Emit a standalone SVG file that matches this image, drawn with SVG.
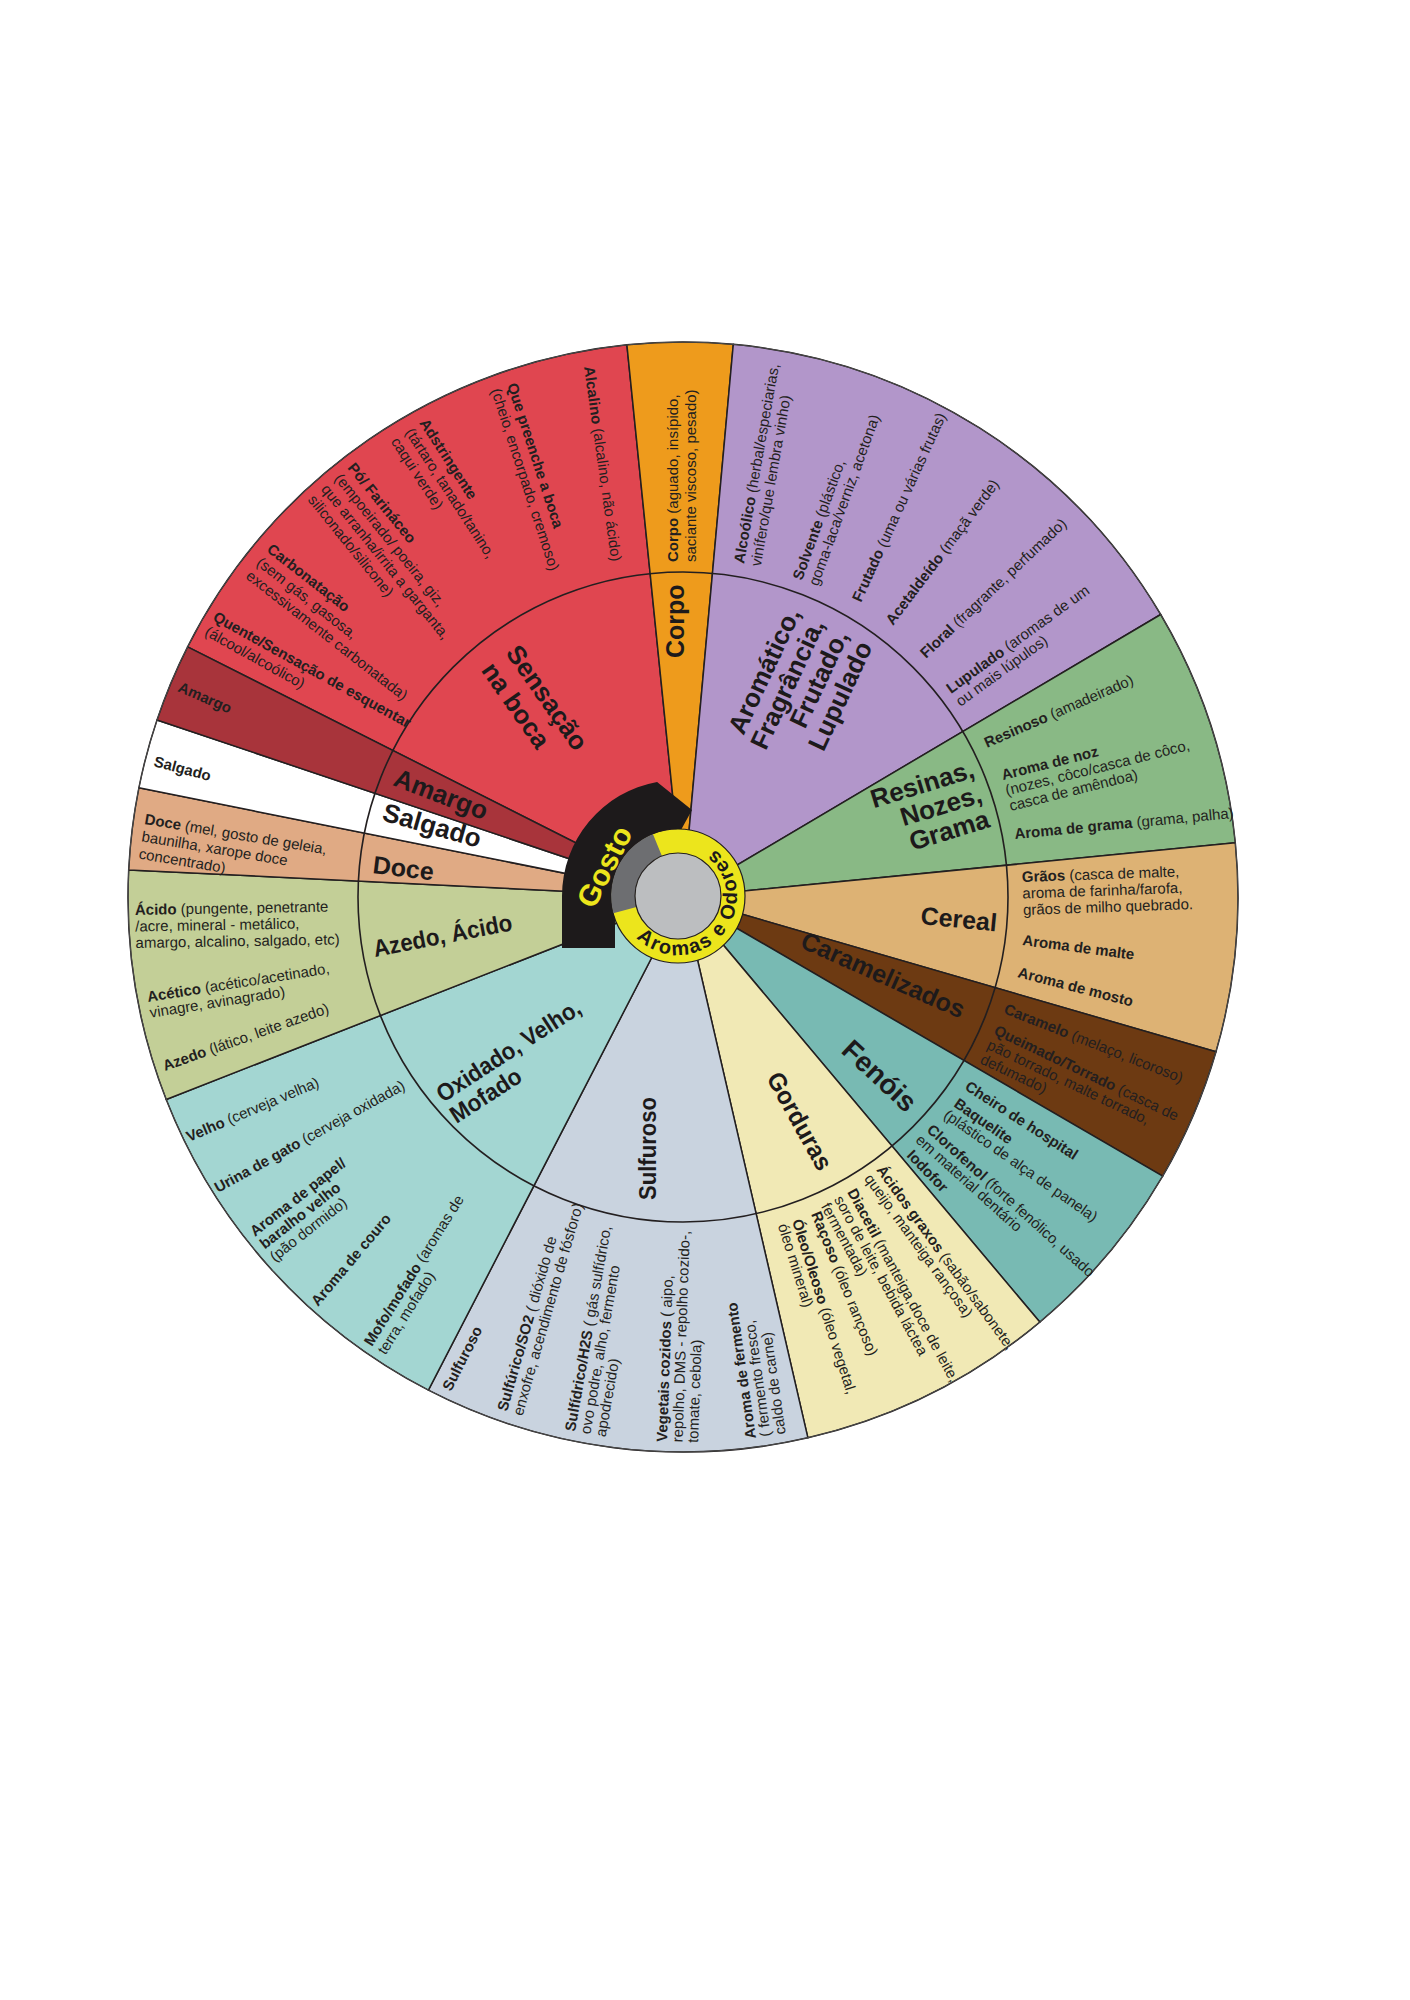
<svg xmlns="http://www.w3.org/2000/svg" width="1410" height="2000" viewBox="0 0 1410 2000">
<style>
.w{stroke:#231f20;stroke-width:1.5;stroke-linejoin:round}
.d{font-family:"Liberation Sans",Arial,Helvetica,sans-serif;font-size:15px;fill:#231f20}
.b{font-weight:bold}
.c{font-family:"Liberation Sans",Arial,Helvetica,sans-serif;font-weight:bold;fill:#1d1a1b}
</style>
<defs>
<path id="ring" d="M636.28,937.72 A59,59 0 0 0 723.2,858.08 A59,59 0 0 0 640.08,850.8"/>
</defs>
<rect width="1410" height="2000" fill="#ffffff"/>
<g id="sectors">
<path id="w-sensacao" class="w" fill="#e04650" d="M683,897 L187.6,646.8 A555,555 0 0 1 626.9,344.8 Z"/>
<path id="w-corpo" class="w" fill="#ee9b1c" d="M683,897 L626.9,344.8 A555,555 0 0 1 733.3,344.3 Z"/>
<path id="w-aromatico" class="w" fill="#b296ca" d="M683,897 L733.3,344.3 A555,555 0 0 1 1160.7,614.5 Z"/>
<path id="w-resinas" class="w" fill="#89b985" d="M683,897 L1160.7,614.5 A555,555 0 0 1 1235.3,842.8 Z"/>
<path id="w-cereal" class="w" fill="#ddb274" d="M683,897 L1235.3,842.8 A555,555 0 0 1 1216,1051.8 Z"/>
<path id="w-caramelizados" class="w" fill="#6d3a12" d="M683,897 L1216,1051.8 A555,555 0 0 1 1162.7,1176.2 Z"/>
<path id="w-fenois" class="w" fill="#78bab3" d="M683,897 L1162.7,1176.2 A555,555 0 0 1 1039.8,1322.1 Z"/>
<path id="w-gorduras" class="w" fill="#f1e9b5" d="M683,897 L1039.8,1322.1 A555,555 0 0 1 807.9,1437.8 Z"/>
<path id="w-sulfuroso" class="w" fill="#c9d3df" d="M683,897 L807.9,1437.8 A555,555 0 0 1 428.4,1390.2 Z"/>
<path id="w-oxidado" class="w" fill="#a3d6d2" d="M683,897 L428.4,1390.2 A555,555 0 0 1 166.2,1099.5 Z"/>
<path id="w-azedo" class="w" fill="#c3cf97" d="M683,897 L166.2,1099.5 A555,555 0 0 1 128.7,869.9 Z"/>
<path id="w-doce" class="w" fill="#e0aa84" d="M683,897 L128.7,869.9 A555,555 0 0 1 138.9,787.8 Z"/>
<path id="w-salgado" class="w" fill="#ffffff" d="M683,897 L138.9,787.8 A555,555 0 0 1 157,720 Z"/>
<path id="w-amargo" class="w" fill="#a8343b" d="M683,897 L157,720 A555,555 0 0 1 187.6,646.8 Z"/>
<circle cx="683" cy="897" r="325" fill="none" stroke="#231f20" stroke-width="1.6"/>
<circle cx="683" cy="897" r="555" fill="none" stroke="#4a4a4a" stroke-width="1"/>
</g>

<g id="sensacao">
<text class="c" font-size="26" transform="translate(505 653) rotate(55)">Sensação<tspan x="0" dy="30">na boca</tspan></text>
<text class="d" transform="translate(584 367) rotate(82)"><tspan class="b">Alcalino</tspan> (alcalino, não ácido)</text>
<text class="d" transform="translate(507 385) rotate(72)"><tspan class="b">Que preenche a boca</tspan><tspan x="0" dy="17">(cheio, encorpado, cremoso)</tspan></text>
<text class="d" transform="translate(419 423) rotate(57)"><tspan class="b">Adstringente</tspan><tspan x="0" dy="17">(tártaro, tanado/tanino,</tspan><tspan x="0" dy="17">caqui verde)</tspan></text>
<text class="d" transform="translate(347 468) rotate(51)"><tspan class="b">Pó/ Farináceo</tspan><tspan x="0" dy="17">(empoeirado/ poeira, giz,</tspan><tspan x="0" dy="17">que arranha/irrita a garganta,</tspan><tspan x="0" dy="17">siliconado/silicone)</tspan></text>
<text class="d" transform="translate(266 551) rotate(38)"><tspan class="b">Carbonatação</tspan><tspan x="0" dy="17">(sem gás, gasosa,</tspan><tspan x="0" dy="17">excessivamente carbonatada)</tspan></text>
<text class="d" transform="translate(212 620) rotate(29)"><tspan class="b">Quente/Sensação de esquentar</tspan><tspan x="0" dy="17">(álcool/alcoólico)</tspan></text>
</g>

<g id="amargo">
<text class="c" font-size="26" transform="translate(392 785) rotate(21)">Amargo</text>
<text class="d b" transform="translate(177 691) rotate(23.5)">Amargo</text>
</g>

<g id="salgado">
<text class="c" font-size="26" transform="translate(381 820) rotate(16)">Salgado</text>
<text class="d b" transform="translate(153 766) rotate(15)">Salgado</text>
</g>

<g id="doce">
<text class="c" font-size="25" transform="translate(372 873) rotate(7)">Doce</text>
<text class="d" transform="translate(144 824) rotate(9.5)"><tspan class="b">Doce</tspan> (mel, gosto de geleia,<tspan x="0" dy="17.5">baunilha, xarope doce</tspan><tspan x="0" dy="17.5">concentrado)</tspan></text>
</g>

<g id="azedo">
<text class="c" font-size="24" textLength="141" lengthAdjust="spacingAndGlyphs" transform="translate(375 957) rotate(-11)">Azedo, Ácido</text>
<text class="d" transform="translate(135 915) rotate(-1)"><tspan class="b">Ácido</tspan> (pungente, penetrante<tspan x="0" dy="16.5">/acre, mineral - metálico,</tspan><tspan x="0" dy="16.5">amargo, alcalino, salgado, etc)</tspan></text>
<text class="d" transform="translate(148 1002) rotate(-9)"><tspan class="b">Acético</tspan> (acético/acetinado,<tspan x="0" dy="16">vinagre, avinagrado)</tspan></text>
<text class="d" transform="translate(165 1071) rotate(-19.5)"><tspan class="b">Azedo</tspan> (lático, leite azedo)</text>
</g>

<g id="oxidado">
<text class="c" font-size="24" transform="translate(443 1103) rotate(-33)"><tspan textLength="167" lengthAdjust="spacingAndGlyphs">Oxidado, Velho,</tspan><tspan x="0" dy="25" textLength="80" lengthAdjust="spacingAndGlyphs">Mofado</tspan></text>
<text class="d" transform="translate(189 1142) rotate(-23)"><tspan class="b">Velho</tspan> (cerveja velha)</text>
<text class="d" transform="translate(218 1193) rotate(-29)"><tspan class="b">Urina de gato</tspan> (cerveja oxidada)</text>
<text class="d" transform="translate(255 1237) rotate(-38)"><tspan class="b">Aroma de papel/</tspan><tspan class="b" x="0" dy="16">baralho velho</tspan><tspan x="0" dy="16">(pão dormido)</tspan></text>
<text class="d b" transform="translate(318 1307) rotate(-50)">Aroma de couro</text>
<text class="d" transform="translate(372 1347) rotate(-58)"><tspan class="b">Mofo/mofado</tspan> (aromas de<tspan x="0" dy="16">terra, mofado)</tspan></text>
</g>

<g id="sulfuroso">
<text class="c" font-size="24" textLength="103" lengthAdjust="spacingAndGlyphs" transform="translate(656 1200) rotate(-90)">Sulfuroso</text>
<text class="d b" transform="translate(451 1392) rotate(-63)">Sulfuroso</text>
<text class="d" transform="translate(507 1412) rotate(-74)"><tspan class="b">Sulfúrico/SO2</tspan> ( dióxido de<tspan x="0" dy="16">enxofre, acendimento de fósforo)</tspan></text>
<text class="d" transform="translate(575 1432) rotate(-80)"><tspan class="b">Sulfídrico/H2S</tspan> ( gás sulfídrico,<tspan x="0" dy="15.5">ovo podre, alho, fermento</tspan><tspan x="0" dy="15.5">apodrecido)</tspan></text>
<text class="d" transform="translate(667 1442) rotate(-88)"><tspan class="b">Vegetais cozidos</tspan> ( aipo,<tspan x="0" dy="15.5">repolho, DMS - repolho cozido-,</tspan><tspan x="0" dy="15.5">tomate, cebola)</tspan></text>
<text class="d" transform="translate(756 1438) rotate(-98)"><tspan class="b">Aroma de fermento</tspan><tspan x="0" dy="15">( fermento fresco,</tspan><tspan x="0" dy="15">caldo de carne)</tspan></text>
</g>

<g id="gorduras">
<text class="c" font-size="25" textLength="108" lengthAdjust="spacingAndGlyphs" transform="translate(766 1078) rotate(61)">Gorduras</text>
<text class="d" transform="translate(876 1170) rotate(54)"><tspan class="b">Ácidos graxos</tspan> (sabão/sabonete,<tspan x="0" dy="15">queijo, manteiga rançosa)</tspan></text>
<text class="d" transform="translate(847 1192) rotate(61.5)"><tspan class="b">Diacetil</tspan> (manteiga,doce de leite,<tspan x="0" dy="15">soro de leite, bebida láctea</tspan><tspan x="0" dy="15">fermentada)</tspan></text>
<text class="d" transform="translate(811 1214) rotate(68)"><tspan class="b">Raçoso</tspan> (óleo rançoso)</text>
<text class="d" transform="translate(792 1221) rotate(72.5)"><tspan class="b">Óleo/Oleoso</tspan> (óleo vegetal,<tspan x="0" dy="15">óleo mineral)</tspan></text>
</g>

<g id="fenois">
<text class="c" font-size="28" transform="translate(840 1052) rotate(43)">Fenóis</text>
<text class="d b" transform="translate(964 1089) rotate(33)">Cheiro de hospital</text>
<text class="d" transform="translate(953 1106) rotate(35)"><tspan class="b">Baquelite</tspan><tspan x="-2" dy="15">(plástico de alça de panela)</tspan></text>
<text class="d" transform="translate(926 1131) rotate(42)"><tspan class="b">Clorofenol</tspan> (forte fenólico, usado<tspan x="-1.5" dy="15">em material dentário</tspan></text>
<text class="d b" transform="translate(906 1156) rotate(46)">Iodofor</text>
</g>

<g id="caramelizados">
<text class="c" font-size="25" transform="translate(799 947) rotate(24)">Caramelizados</text>
<text class="d" transform="translate(1003 1013) rotate(21.5)"><tspan class="b">Caramelo</tspan> (melaço, licoroso)</text>
<text class="d" transform="translate(993 1034) rotate(25.5)"><tspan class="b">Queimado/Torrado</tspan> (casca de<tspan x="0" dy="16">pão torrado, malte torrado,</tspan><tspan x="0" dy="16">defumado)</tspan></text>
</g>

<g id="cereal">
<text class="c" font-size="25" transform="translate(920 924) rotate(5.5)">Cereal</text>
<text class="d" transform="translate(1022 882) rotate(-2)"><tspan class="b">Grãos</tspan> (casca de malte,<tspan x="0" dy="16.5">aroma de farinha/farofa,</tspan><tspan x="0" dy="16.5">grãos de milho quebrado.</tspan></text>
<text class="d b" transform="translate(1022 945) rotate(7.5)">Aroma de malte</text>
<text class="d b" transform="translate(1017 977) rotate(14.5)">Aroma de mosto</text>
</g>

<g id="resinas">
<text class="c" font-size="26" text-anchor="end" transform="translate(976 777) rotate(-17)"><tspan x="0">Resinas,</tspan><tspan x="0" dy="26">Nozes,</tspan><tspan x="0" dy="26">Grama</tspan></text>
<text class="d" transform="translate(987 748) rotate(-23.5)"><tspan class="b">Resinoso</tspan> (amadeirado)</text>
<text class="d" transform="translate(1003 780) rotate(-14)"><tspan class="b">Aroma de noz</tspan><tspan x="0" dy="16">(nozes, côco/casca de côco,</tspan><tspan x="0" dy="16">casca de amêndoa)</tspan></text>
<text class="d" transform="translate(1015 839) rotate(-5.5)"><tspan class="b">Aroma de grama</tspan> (grama, palha)</text>
</g>

<g id="aromatico">
<text class="c" font-size="26" text-anchor="end" transform="translate(801 613) rotate(-65)"><tspan x="0">Aromático,</tspan><tspan x="0" dy="26.5">Fragrância,</tspan><tspan x="0" dy="26.5">Frutado,</tspan><tspan x="0" dy="26.5">Lupulado</tspan></text>
<text class="d" transform="translate(744 564) rotate(-80)"><tspan class="b">Alcoólico</tspan> (herbal/especiarias,<tspan x="0" dy="17">vinífero/que lembra vinho)</tspan></text>
<text class="d" transform="translate(802 581) rotate(-70)"><tspan class="b">Solvente</tspan> (plástico,<tspan x="0" dy="17">goma-laca/verniz, acetona)</tspan></text>
<text class="d" transform="translate(861 603) rotate(-65.5)"><tspan class="b">Frutado</tspan> (uma ou várias frutas)</text>
<text class="d" transform="translate(893 626) rotate(-53)"><tspan class="b">Acetaldeído</tspan> (maçã verde)</text>
<text class="d" transform="translate(926 659) rotate(-43.5)"><tspan class="b">Floral</tspan> (fragrante, perfumado)</text>
<text class="d" transform="translate(951 694) rotate(-36)"><tspan class="b">Lupulado</tspan> (aromas de um<tspan x="0" dy="16">ou mais lúpulos)</tspan></text>
</g>

<g id="corpo">
<text class="c" font-size="25" transform="translate(684 658) rotate(-90)">Corpo</text>
<text class="d" transform="translate(678 562) rotate(-90)"><tspan class="b">Corpo</tspan> (aguado, insípido,<tspan x="0" dy="18">saciante viscoso, pesado)</tspan></text>
</g>

<g id="hub">
<circle cx="678" cy="896" r="67" fill="#ece51c" stroke="#231f20" stroke-width="1.2"/>
<path fill="#6d6e71" d="M613.28,913.34 A67,67 0 0 1 652.9,833.9 L661.9,856.1 A43,43 0 0 0 636.5,907.1 Z"/>
<circle cx="678" cy="896" r="43" fill="#bcbec0" stroke="#231f20" stroke-width="1.2"/>
<text class="c" font-size="20" letter-spacing="1.8" fill="#1d1a1b"><textPath href="#ring">Aromas e Odores</textPath></text>
</g>

<g id="gosto">
<path fill="#1d1a1b" d="M562,948 L562,896 A116,116 0 0 1 657.1,781.9 L692,810 L681.5,829.1 A67,67 0 0 0 615,918.9 L615,948 Z"/>
<text font-family="Liberation Sans,Arial,sans-serif" font-weight="bold" font-size="30" fill="#ece51c" transform="translate(594 910) rotate(-63)">Gosto</text>
</g>
</svg>
